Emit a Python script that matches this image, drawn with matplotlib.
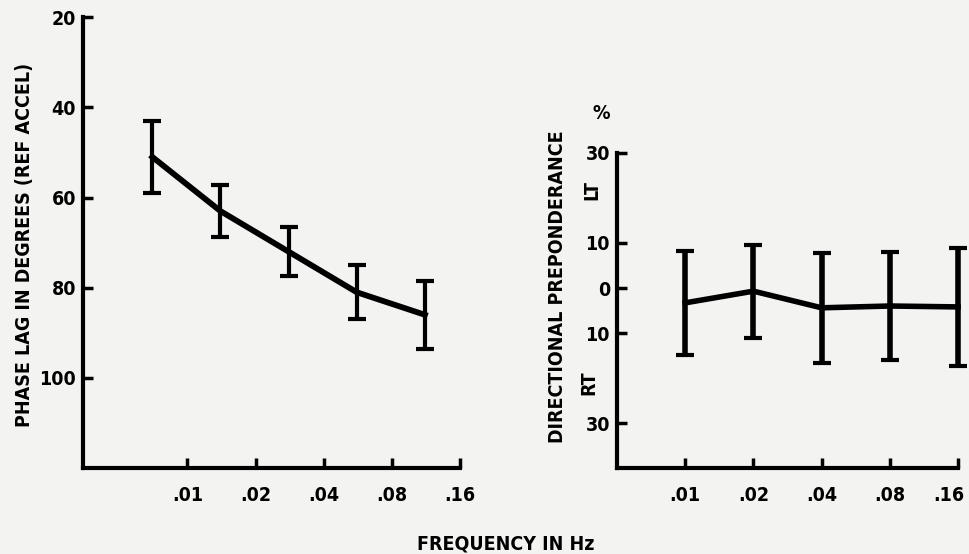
import matplotlib
matplotlib.use("Agg")
import matplotlib.pyplot as plt
from matplotlib.transforms import ScaledTranslation

plt.rcParams['font.family'] = ['DejaVu Sans']
plt.rcParams['font.stretch'] = 'condensed'
plt.rcParams['font.weight'] = 'bold'
plt.rcParams['axes.labelweight'] = 'bold'

# phase lag panel
phaseFreq = [0.007, 0.014, 0.028, 0.056, 0.112]
phaseLag = [51, 63, 72, 81, 86]
phaseErr = [8, 5.7, 5.5, 6, 7.5]
phaseTicks = [20, 40, 60, 80, 100]

# directional preponderance panel
dpFreq = [0.01, 0.02, 0.04, 0.08, 0.16]
dpValue = [-3.3, -0.7, -4.4, -4.0, -4.2]
dpErr = [11.5, 10.3, 12.2, 11.9, 13.1]
dpTicks = [30, 10, 0, -10, -30]
dpTickLabels = ['30', '10', '0', '10', '30']

freqTicks = [0.01, 0.02, 0.04, 0.08, 0.16]
freqLabels = ['.01', '.02', '.04', '.08', '.16']

bg = '#f3f3f1'
fig = plt.figure(figsize=(9.69, 5.54), dpi=100, facecolor=bg)
axL = fig.add_axes([0.0857, 0.155, 0.389, 0.814])
axR = fig.add_axes([0.6367, 0.155, 0.352, 0.569])

for ax in (axL, axR):
    ax.set_facecolor(bg)
    ax.set_xscale('log', base=2)
    for s in ('top', 'right'):
        ax.spines[s].set_visible(False)
    for s in ('left', 'bottom'):
        ax.spines[s].set_linewidth(3)
        ax.spines[s].set_capstyle('projecting')
    ax.set_xticks(freqTicks)
    ax.set_xticklabels(freqLabels)
    ax.minorticks_off()
    ax.tick_params(axis='both', direction='in', width=2.5, length=7, labelsize=14)
    ax.tick_params(axis='y', pad=5)
    ax.tick_params(axis='x', pad=13)

axL.errorbar(phaseFreq, phaseLag, yerr=phaseErr, color='black', lw=4.2, elinewidth=3,
             capsize=6.5, capthick=3, clip_on=False)
axL.set_xlim(0.00346, 0.16)
axL.set_ylim(120, 20)
axL.set_yticks(phaseTicks)

axR.errorbar(dpFreq, dpValue, yerr=dpErr, color='black', lw=4, elinewidth=4,
             capsize=6.5, capthick=3, clip_on=False)
axR.set_xlim(0.005, 0.16)
axR.set_ylim(-40, 30)
axR.set_yticks(dpTicks)
axR.set_yticklabels(dpTickLabels)

# last label sits on the figure edge, nudge it in
lastLabel = axR.get_xticklabels()[-1]
lastLabel.set_transform(lastLabel.get_transform() + ScaledTranslation(-7 / 72, 0, fig.dpi_scale_trans))

fig.text(0.025, 0.558, 'PHASE LAG IN DEGREES (REF ACCEL)', fontsize=14, rotation=90,
         ha='center', va='center')
fig.text(0.575, 0.482, 'DIRECTIONAL PREPONDERANCE', fontsize=14, rotation=90,
         ha='center', va='center')
fig.text(0.620, 0.796, '%', fontsize=14, ha='center', va='center')
fig.text(0.611, 0.657, 'LT', fontsize=14, rotation=90, ha='center', va='center')
fig.text(0.608, 0.31, 'RT', fontsize=14, rotation=90, ha='center', va='center')
fig.text(0.522, 0.0, 'FREQUENCY IN Hz', fontsize=14, ha='center', va='bottom')

fig.savefig('out.png', dpi=100, facecolor=bg)
